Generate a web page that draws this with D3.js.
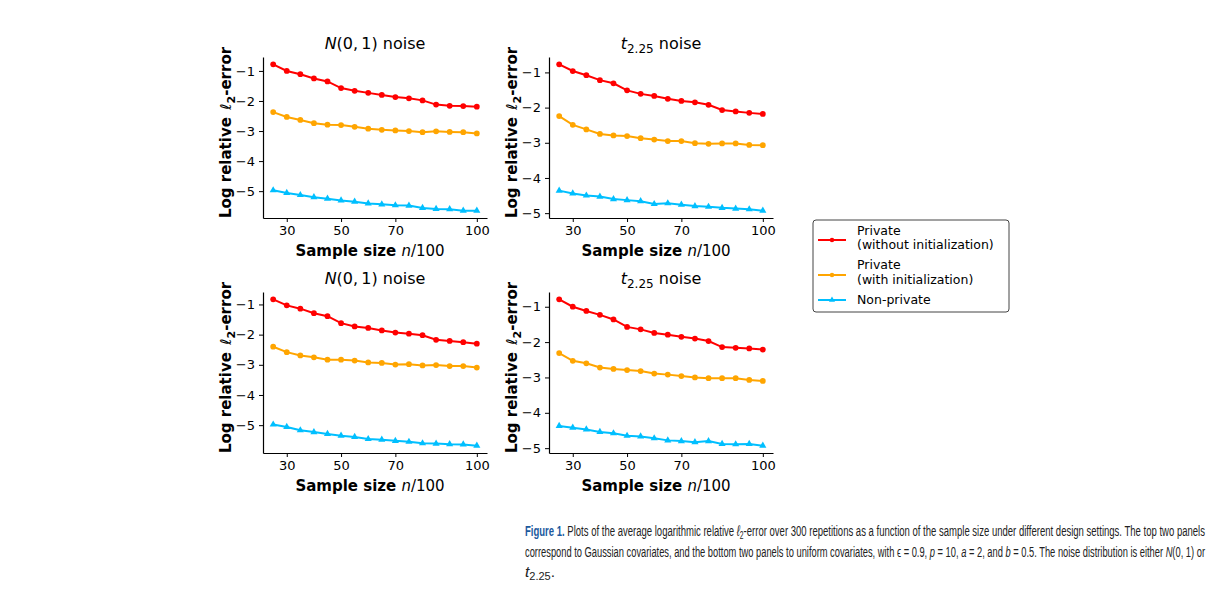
<!DOCTYPE html>
<html>
<head>
<meta charset="utf-8">
<script src="https://cdn.jsdelivr.net/npm/d3@7"></script>
<style>
body { margin: 0; background: #fff; }
svg { font-family: 'DejaVu Sans', sans-serif; }
.tick text { font-size: 13px; fill: #000; }
.axis-label { font-size: 15px; font-weight: bold; }
.caption { font-family: 'Liberation Sans Narrow', 'Liberation Sans', sans-serif; font-size: 15.5px; fill: #222; }
</style>
</head>
<body>
<svg width="1230" height="591"></svg>
<script>
const sampleSizes = [25, 30, 35, 40, 45, 50, 55, 60, 65, 70, 75, 80, 85, 90, 95, 100];
const xTicks = [30, 50, 70, 100];

const seriesNames = ['Private\n(without initialization)', 'Private\n(with initialization)', 'Non-private'];
const seriesColors = ['#ff0000', '#ffa500', '#00bfff'];

// panel values: [without init, with init, non-private]
const gaussNormal = [
  [-0.78, -1.0, -1.11, -1.25, -1.35, -1.57, -1.66, -1.73, -1.80, -1.87, -1.91, -1.98, -2.12, -2.16, -2.17, -2.19],
  [-2.37, -2.53, -2.63, -2.74, -2.79, -2.80, -2.86, -2.92, -2.96, -2.98, -3.00, -3.04, -3.01, -3.03, -3.04, -3.08],
  [-4.97, -5.06, -5.13, -5.20, -5.25, -5.31, -5.35, -5.41, -5.44, -5.47, -5.48, -5.56, -5.59, -5.60, -5.65, -5.65]
];
const gaussT = [
  [-0.77, -0.96, -1.08, -1.22, -1.31, -1.51, -1.61, -1.67, -1.75, -1.81, -1.85, -1.92, -2.07, -2.11, -2.15, -2.18],
  [-2.24, -2.49, -2.62, -2.75, -2.79, -2.81, -2.87, -2.91, -2.95, -2.95, -3.01, -3.03, -3.02, -3.02, -3.06, -3.07],
  [-4.36, -4.44, -4.50, -4.53, -4.60, -4.63, -4.66, -4.74, -4.72, -4.76, -4.80, -4.82, -4.85, -4.87, -4.89, -4.93]
];
const unifNormal = [
  [-0.83, -1.03, -1.14, -1.29, -1.39, -1.62, -1.73, -1.78, -1.86, -1.93, -1.97, -2.02, -2.17, -2.21, -2.25, -2.30],
  [-2.40, -2.58, -2.69, -2.75, -2.83, -2.83, -2.86, -2.92, -2.94, -2.99, -2.98, -3.02, -3.01, -3.04, -3.04, -3.09],
  [-4.98, -5.06, -5.17, -5.23, -5.29, -5.35, -5.39, -5.46, -5.48, -5.52, -5.55, -5.60, -5.61, -5.63, -5.64, -5.68]
];
const unifT = [
  [-0.79, -1.0, -1.12, -1.23, -1.36, -1.57, -1.64, -1.74, -1.79, -1.85, -1.90, -1.97, -2.14, -2.16, -2.18, -2.21],
  [-2.31, -2.53, -2.60, -2.72, -2.76, -2.79, -2.82, -2.89, -2.92, -2.96, -3.00, -3.02, -3.02, -3.02, -3.07, -3.10],
  [-4.37, -4.42, -4.47, -4.54, -4.58, -4.65, -4.67, -4.72, -4.78, -4.80, -4.83, -4.80, -4.88, -4.89, -4.88, -4.93]
];

const panels = [
  { data: gaussNormal, title: 'N', yTicks: [-1, -2, -3, -4, -5], left: 263, top: 57 },
  { data: gaussT, title: 't', yTicks: [-1, -2, -3, -4, -5], left: 549, top: 57 },
  { data: unifNormal, title: 'N', yTicks: [-1, -2, -3, -4, -5], left: 263, top: 292 },
  { data: unifT, title: 't', yTicks: [-1, -2, -3, -4, -5], left: 549, top: 292 }
];
const panelW = 224, panelH = 161;

const svg = d3.select('svg');

const pad = ([a, b]) => { const m = (b - a) * 0.05; return [a - m, b + m]; };
const minus = d => String(d).replace('-', '\u2212');

panels.forEach(p => {
  const g = svg.append('g').attr('transform', `translate(${p.left},${p.top})`);
  const allY = p.data.flat();
  const xScale = d3.scaleLinear().domain(pad(d3.extent(sampleSizes))).range([0, panelW]);
  const yScale = d3.scaleLinear().domain(pad(d3.extent(allY))).range([panelH, 0]);

  const xAxisG = g.append('g').attr('transform', `translate(0,${panelH})`)
    .call(d3.axisBottom(xScale).tickValues(xTicks).tickSize(4).tickPadding(4).tickSizeOuter(0));
  const yAxisG = g.append('g')
    .call(d3.axisLeft(yScale).tickValues(p.yTicks).tickFormat(minus).tickSize(4).tickPadding(4).tickSizeOuter(0));
  [xAxisG, yAxisG].forEach(a => {
    a.select('.domain').attr('stroke', '#000').attr('stroke-width', 1.2);
    a.selectAll('.tick line').attr('stroke', '#000');
    a.selectAll('.tick text').attr('font-family', 'DejaVu Sans');
  });

  const line = d3.line().x((d, i) => xScale(sampleSizes[i])).y(d => yScale(d));
  p.data.forEach((vals, si) => {
    g.append('path').datum(vals)
      .attr('fill', 'none').attr('stroke', seriesColors[si]).attr('stroke-width', 2)
      .attr('d', line);
    const sym = si === 2 ? d3.symbolTriangle : d3.symbolCircle;
    g.selectAll(null).data(vals).enter().append('path')
      .attr('transform', (d, i) => `translate(${xScale(sampleSizes[i])},${yScale(d)})`)
      .attr('d', d3.symbol(sym, si === 2 ? 22 : 26))
      .attr('fill', seriesColors[si]);
  });

  // title
  const t = g.append('text').attr('x', panelW / 2).attr('y', -8)
    .attr('text-anchor', 'middle').attr('font-size', 16);
  if (p.title === 'N') {
    t.append('tspan').attr('font-style', 'italic').text('N');
    t.append('tspan').text('(0,\u20091) noise');
  } else {
    t.append('tspan').attr('font-style', 'italic').text('t');
    t.append('tspan').attr('font-size', 12).attr('dy', 4).text('2.25');
    t.append('tspan').attr('dy', -4).text(' noise');
  }

  // x label
  const xl = g.append('text').attr('class', 'axis-label')
    .attr('x', panelW / 2 - 5).attr('y', panelH + 38).attr('text-anchor', 'middle');
  xl.append('tspan').text('Sample size ');
  xl.append('tspan').attr('font-style', 'italic').attr('font-weight', 'normal').text('n');
  xl.append('tspan').attr('font-weight', 'normal').text('/100');

  // y label
  const yl = g.append('text').attr('class', 'axis-label')
    .attr('transform', `translate(-32,${panelH / 2 - 5}) rotate(-90)`)
    .attr('text-anchor', 'middle');
  yl.append('tspan').text('Log relative\u2002');
  yl.append('tspan').attr('font-style', 'italic').attr('font-weight', 'normal').text('\u2113');
  yl.append('tspan').attr('font-size', 11).attr('dy', 4).text('2');
  yl.append('tspan').attr('dy', -4).text('-error');
});

// legend
const legend = svg.append('g').attr('transform', 'translate(813,220)');
legend.append('rect').attr('width', 196).attr('height', 92).attr('rx', 3)
  .attr('fill', '#fff').attr('stroke', '#444').attr('stroke-width', 1);
const legendRows = [{ y: 20, lines: [11, 25] }, { y: 55, lines: [45, 60] }, { y: 80, lines: [80] }];
seriesNames.forEach((name, i) => {
  const r = legendRows[i];
  legend.append('line').attr('x1', 5).attr('x2', 33).attr('y1', r.y).attr('y2', r.y)
    .attr('stroke', seriesColors[i]).attr('stroke-width', 2);
  legend.append('path').attr('transform', `translate(19,${r.y})`)
    .attr('d', d3.symbol(i === 2 ? d3.symbolTriangle : d3.symbolCircle, 16))
    .attr('fill', seriesColors[i]);
  name.split('\n').forEach((s, j) => {
    legend.append('text').attr('x', 44).attr('y', r.lines[j] + 4)
      .attr('font-size', 12.5).text(s);
  });
});

// caption: condensed by squeezing glyphs to the measured line widths
const capLine = (y, x1, x2) => {
  const t = svg.append('text').attr('class', 'caption').attr('x', x1).attr('y', y);
  if (x2) t.attr('textLength', x2 - x1).attr('lengthAdjust', 'spacingAndGlyphs');
  return t;
};
const c1 = capLine(536, 525, 1205);
c1.append('tspan').attr('font-weight', 'bold').attr('fill', '#1b5a9e').text('Figure 1.');
c1.append('tspan').text('  Plots of the average logarithmic relative ');
c1.append('tspan').attr('font-style', 'italic').text('\u2113');
c1.append('tspan').attr('font-size', 11).attr('dy', 3).text('2');
c1.append('tspan').attr('dy', -3).text('-error over 300 repetitions as a function of the sample size under different design settings. The top two panels');
const c2 = capLine(557, 525, 1205);
c2.append('tspan').text('correspond to Gaussian covariates, and the bottom two panels to uniform covariates, with \u03f5 = 0.9, ');
c2.append('tspan').attr('font-style', 'italic').text('p');
c2.append('tspan').text(' = 10, ');
c2.append('tspan').attr('font-style', 'italic').text('a');
c2.append('tspan').text(' = 2, and ');
c2.append('tspan').attr('font-style', 'italic').text('b');
c2.append('tspan').text(' = 0.5. The noise distribution is either ');
c2.append('tspan').attr('font-style', 'italic').text('N');
c2.append('tspan').text('(0, 1) or');
const c3 = capLine(577, 525, null);
c3.append('tspan').attr('font-style', 'italic').text('t');
c3.append('tspan').attr('font-size', 11).attr('dy', 3).text('2.25');
c3.append('tspan').attr('dy', -3).text('.');
</script>
</body>
</html>
